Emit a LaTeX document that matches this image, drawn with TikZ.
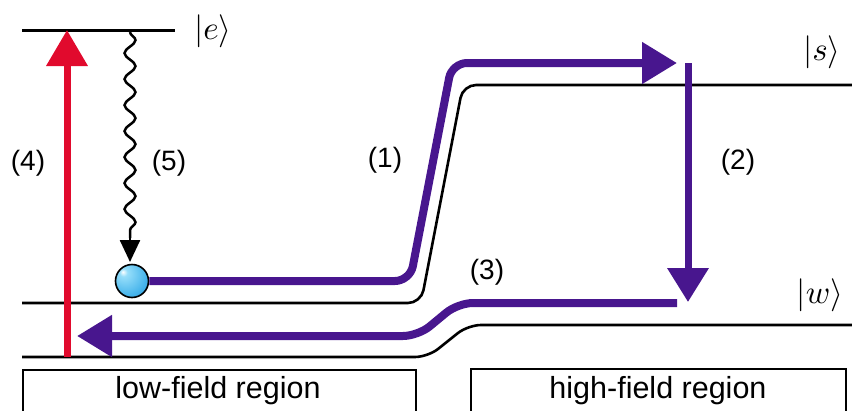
\documentclass[tikz,border=0pt]{standalone}
\usepackage{fontspec}
\setmainfont{Liberation Sans}
\usetikzlibrary{arrows.meta,decorations.pathmorphing,calc}
\definecolor{purp}{RGB}{72,22,142}
\definecolor{redc}{RGB}{225,10,45}
\definecolor{ballA}{RGB}{150,222,250}
\definecolor{ballB}{RGB}{70,180,235}
\definecolor{ballC}{RGB}{30,120,200}
\pgfdeclareradialshading{myball}{\pgfpoint{-14bp}{14bp}}{%
  color(0bp)=(white); color(6bp)=(ballA); color(30bp)=(ballB); color(55bp)=(ballC); color(75bp)=(ballC)}
\newcommand\myket[1]{\scalebox{3.3}{$|#1\rangle$}}
\tikzset{
  level/.style={line width=3pt,black},
  levelcurve/.style={line width=2.6pt,black,rounded corners=13pt},
  purppath/.style={line width=8pt,purp,rounded corners=15pt},
  bigtip/.style={-{Triangle[length=35pt,width=40pt]}},
  numlabel/.style={font=\fontsize{28pt}{30pt}\selectfont,inner sep=0pt},
  ketlabel/.style={font=\fontsize{10pt}{12pt}\selectfont,inner sep=0pt},
  regbox/.style={draw,line width=2pt,anchor=north west,minimum height=60pt,inner sep=0pt},
  reglabel/.style={font=\fontsize{30.5pt}{32pt}\selectfont,inner sep=0pt}
}
\begin{document}
\begin{tikzpicture}[x=1pt,y=-1pt]
\useasboundingbox (0,0) rectangle (852,410);
\clip (0,0) rectangle (852,410);
% coordinates
\coordinate (e1) at (22,30);
\coordinate (e2) at (175,30);
\coordinate (s1) at (22,303);
\coordinate (sa) at (421,303);
\coordinate (sb) at (463,85);
\coordinate (s2) at (852,85);
\coordinate (w1) at (22,357);
\coordinate (wa) at (428,357);
\coordinate (wb) at (468,325);
\coordinate (w2) at (852,325);
\coordinate (redbot) at (67,357);
\coordinate (redtop) at (67,30);
\coordinate (wavytop) at (130,32);
\coordinate (wavymid) at (130,238);
\coordinate (wavytip) at (130,262);
\coordinate (p1a) at (410,281);
\coordinate (p1b) at (452,63);
\coordinate (p1tip) at (677,63);
\coordinate (p2top) at (688,63);
\coordinate (p2tip) at (688,302);
\coordinate (p3start) at (677,303);
\coordinate (p3a) at (458,303);
\coordinate (p3b) at (418,336);
\coordinate (p3tip) at (77,336);
% levels
\draw[level] (e1) -- (e2);
\draw[levelcurve] (s1) -- (sa) -- (sb) -- (s2);
\draw[levelcurve] (w1) -- (wa) -- (wb) -- (w2);
% boxes
\node[regbox,minimum width=393pt] (lowbox) at (22,369) {};
\node[regbox,minimum width=375pt] (highbox) at (470,368) {};
\node[reglabel] (lowlab) at (218,391) {low-field region};
\node[reglabel] (highlab) at (658,391) {high-field region};
% ball
\node[circle,draw=black,line width=1.6pt,shading=myball,minimum size=33pt,inner sep=0pt] (ball) at (132,281) {};
% purple paths
\draw[purppath,bigtip] (ball.east) -- (p1a) -- (p1b) -- (p1tip);
\draw[line width=7pt,purp,-{Triangle[length=34pt,width=40pt]}] (p2top) -- (p2tip);
\draw[purppath,bigtip] (p3start) -- (p3a) -- (p3b) -- (p3tip);
% red arrow
\draw[line width=7pt,redc,-{Triangle[length=36pt,width=40pt]}] (redbot) -- (redtop);
% wavy arrow
\draw[line width=2.5pt,black,decorate,decoration={snake,amplitude=5.5pt,segment length=26pt}]
  (wavytop) -- (wavymid);
\draw[line width=2.5pt,-{Triangle[length=22pt,width=20pt]}] (wavymid) -- (wavytip);
% labels
\node[ketlabel] (elab) at (213,31) {\myket{e}};
\node[ketlabel] (slab) at (822,52) {\myket{s}};
\node[ketlabel] (wlab) at (820,295) {\myket{w}};
\node[numlabel] (l1) at (385,160) {(1)};
\node[numlabel] (l2) at (738,162) {(2)};
\node[numlabel] (l3) at (487,272) {(3)};
\node[numlabel] (l4) at (28,163) {(4)};
\node[numlabel] (l5) at (169,163) {(5)};
\end{tikzpicture}
\end{document}
